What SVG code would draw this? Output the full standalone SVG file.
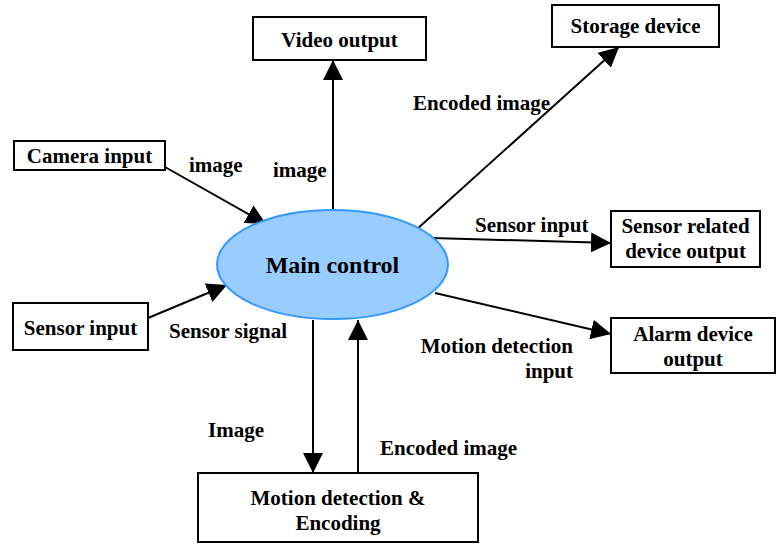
<svg xmlns="http://www.w3.org/2000/svg" width="776" height="544" viewBox="0 0 776 544">
<style>
.box{fill:#fff;stroke:#000;stroke-width:2}
.t{font-family:"Liberation Serif","Times New Roman",serif;font-weight:bold;font-size:21px;fill:#000}
.c{text-anchor:middle}
.r{text-anchor:end}
.edge{stroke:#000;stroke-width:2;fill:none;marker-end:url(#ah)}
</style>
<defs>
<marker id="ah" viewBox="0 0 20 20" refX="20" refY="10" markerWidth="20" markerHeight="20" markerUnits="userSpaceOnUse" orient="auto">
<path d="M0,0 L20,10 L0,20 z" fill="#000"/>
</marker>
</defs>
<rect width="776" height="544" fill="#fff"/>
<g id="connectors">
<line class="edge" x1="165" y1="167" x2="266" y2="224"/>
<line class="edge" x1="333" y1="211" x2="333" y2="60"/>
<line class="edge" x1="416" y1="230" x2="619" y2="47"/>
<line class="edge" x1="432" y1="238" x2="611" y2="243"/>
<line class="edge" x1="435" y1="293" x2="611" y2="334"/>
<line class="edge" x1="148" y1="318" x2="227" y2="285"/>
<line class="edge" x1="313" y1="320" x2="313" y2="473"/>
<line class="edge" x1="358" y1="473" x2="358" y2="320"/>
</g>
<g id="labels">
<text class="t" x="189" y="172">image</text>
<text class="t" x="273" y="177">image</text>
<text class="t" x="413" y="110">Encoded image</text>
<text class="t" x="475" y="232">Sensor input</text>
<text class="t" x="169" y="338">Sensor signal</text>
<text class="t" x="208" y="437">Image</text>
<text class="t" x="380" y="455">Encoded image</text>
<text class="t r" x="573" y="353">Motion detection</text>
<text class="t r" x="573" y="378">input</text>
</g>
<g id="main-control">
<ellipse cx="332.5" cy="264.5" rx="115.5" ry="54.5" fill="#99ccff" stroke="#3399ff" stroke-width="2"/>
<text class="t c" x="332.5" y="273" style="font-size:24px">Main control</text>
</g>
<g id="video-output">
<rect class="box" x="253" y="17" width="173" height="43"/>
<text class="t c" x="339.5" y="47">Video output</text>
</g>
<g id="storage-device">
<rect class="box" x="552" y="5" width="167" height="42"/>
<text class="t c" x="635.5" y="33">Storage device</text>
</g>
<g id="camera-input">
<rect class="box" x="14" y="141" width="151" height="29"/>
<text class="t c" x="89.5" y="163">Camera input</text>
</g>
<g id="sensor-related-output">
<rect class="box" x="611" y="211" width="149" height="56"/>
<text class="t c" x="685.5" y="233">Sensor related</text>
<text class="t c" x="685.5" y="258">device output</text>
</g>
<g id="alarm-device-output">
<rect class="box" x="611" y="318" width="164" height="55"/>
<text class="t c" x="693" y="341">Alarm device</text>
<text class="t c" x="693" y="366">output</text>
</g>
<g id="sensor-input">
<rect class="box" x="13" y="303" width="135" height="47"/>
<text class="t c" x="80.5" y="335">Sensor input</text>
</g>
<g id="motion-detection">
<rect class="box" x="198" y="473" width="280" height="69"/>
<text class="t c" x="338" y="505">Motion detection &amp;</text>
<text class="t c" x="338" y="530">Encoding</text>
</g>
</svg>
